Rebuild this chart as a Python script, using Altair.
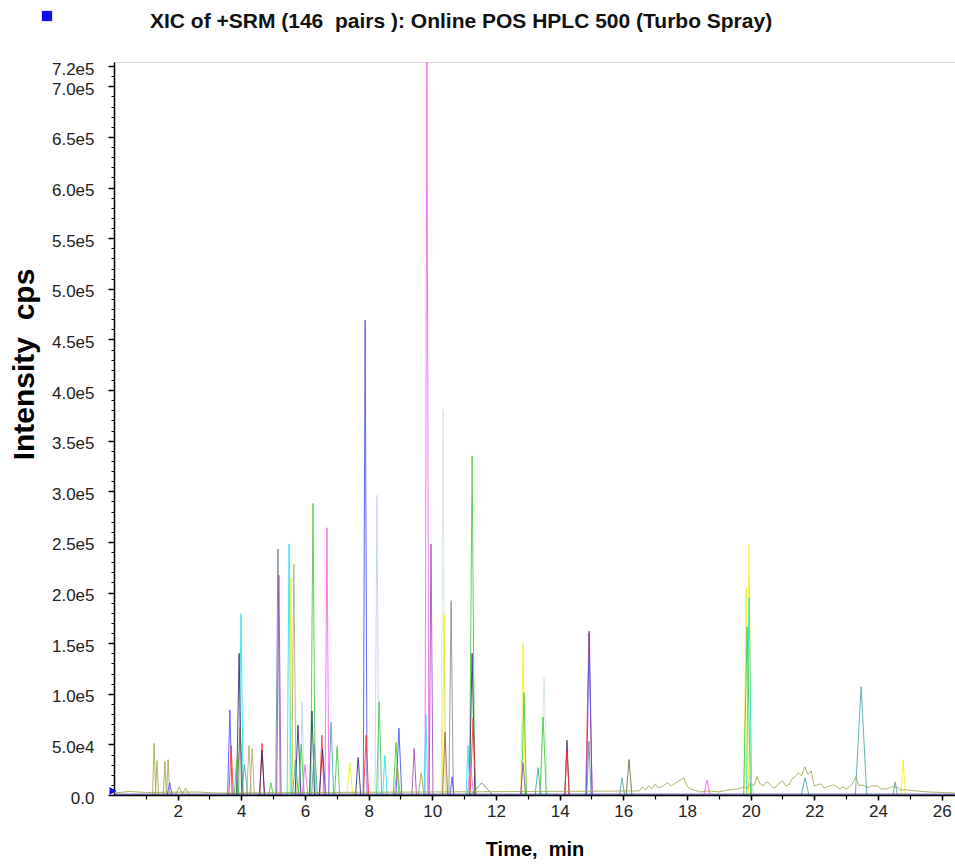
import altair as alt
import pandas as pd

# ---- peaks (retention time min, intensity cps, half width min, trace colour)
peak_time = [1.26, 1.35, 1.60, 1.70, 1.75, 2.05, 2.25, 3.64, 3.68, 3.99, 3.93, 3.96, 3.85, 4.24, 4.34, 4.10,
             4.65, 4.65, 4.93, 5.15, 5.18, 5.50, 5.56, 5.65, 5.91, 5.78, 5.70, 5.88, 6.00, 6.25, 6.22, 6.30,
             6.53, 6.55, 6.69, 6.82, 7.01, 7.41, 7.67, 7.89, 7.92, 8.26, 8.33, 8.51, 8.86, 8.95, 8.90, 9.43,
             9.65, 9.83, 9.80, 9.96, 10.34, 10.37, 10.40, 10.59, 10.62, 11.25, 11.25, 11.28, 11.12, 11.20,
             11.55, 12.85, 12.88, 12.85, 13.51, 13.48, 13.32, 14.23, 14.23, 14.92, 14.93, 14.92, 15.96,
             16.18, 18.63, 19.95, 19.86, 19.95, 19.89, 19.98, 21.71, 23.47, 24.54, 24.79]
peak_height = [51000, 34000, 33000, 35000, 12000, 8000, 7000, 84000, 49000, 179000, 140000, 67000, 35000,
               49000, 46000, 30000, 51000, 44000, 12000, 243000, 217000, 248000, 214000, 228000, 92000,
               69000, 35000, 50000, 30000, 288000, 83000, 50000, 59000, 45000, 264000, 72000, 48000,
               32000, 37000, 469000, 59000, 296000, 92000, 39000, 52000, 66000, 30000, 46000, 22000,
               730000, 79000, 248000, 381000, 179000, 62000, 192000, 18000, 335000, 140000, 76000, 49000,
               30000, 12000, 150000, 101000, 32000, 116000, 77000, 27000, 54000, 44000, 160000, 162000,
               53000, 17000, 35000, 15000, 248000, 205000, 195000, 166000, 20000, 17000, 107000, 13000,
               35000]
peak_halfwidth = [0.05, 0.05, 0.05, 0.05, 0.08, 0.12, 0.12, 0.07, 0.07, 0.07, 0.08, 0.09, 0.07, 0.07, 0.07,
                  0.10, 0.07, 0.08, 0.07, 0.07, 0.07, 0.06, 0.06, 0.07, 0.06, 0.09, 0.09, 0.09, 0.09, 0.07,
                  0.08, 0.09, 0.07, 0.10, 0.06, 0.08, 0.08, 0.09, 0.08, 0.06, 0.08, 0.06, 0.08, 0.07, 0.09,
                  0.09, 0.09, 0.07, 0.09, 0.06, 0.06, 0.06, 0.06, 0.06, 0.08, 0.07, 0.06, 0.08, 0.09, 0.09,
                  0.06, 0.10, 0.35, 0.07, 0.08, 0.08, 0.10, 0.10, 0.09, 0.07, 0.07, 0.10, 0.09, 0.07, 0.08,
                  0.09, 0.10, 0.08, 0.07, 0.08, 0.11, 0.12, 0.12, 0.18, 0.07, 0.07]
peak_trace = ["olive", "olive", "olive", "olive", "blue", "olive", "olive", "blue", "red", "cyan", "navy",
              "darkolive", "green", "khaki", "khaki", "teal", "red", "navy", "green", "slate", "purple",
              "cyan", "yellow", "khaki", "lightblue", "navy", "teal", "green", "magenta", "green", "navy",
              "teal", "red", "navy", "magenta", "teal", "green", "yellow", "navy", "blue", "red",
              "lightblue", "green", "cyan", "green", "blue", "olive", "purple", "olive", "magenta", "cyan",
              "purple", "palegreen", "yellow", "brown", "gray", "blue", "green", "navy", "red", "cyan",
              "magenta", "darkgreen", "yellow", "green", "purple", "palegreen", "green", "teal", "navy",
              "red", "red", "blue", "slate", "teal", "darkolive", "magenta", "yellow", "yellow", "cyan",
              "green", "lightblue", "teal", "teal", "teal", "yellow"]

# ---- olive baseline noise
noise_time = [0.0, 0.5, 1.0, 2.6, 3.2, 16.5, 16.6, 16.7, 16.8, 16.9, 17.0, 17.1, 17.2, 17.3, 17.4, 17.5,
              17.6, 17.7, 17.8, 17.9, 18.0, 18.1, 18.2, 18.4, 18.7, 19.0, 19.3, 19.6, 19.8, 19.9, 20.0,
              20.1, 20.2, 20.3, 20.4, 20.5, 20.6, 20.7, 20.8, 20.9, 21.0, 21.1, 21.2, 21.3, 21.4, 21.5,
              21.6, 21.7, 21.8, 21.9, 22.0, 22.2, 22.3, 22.5, 22.6, 22.8, 22.9, 23.0, 23.1, 23.2, 23.3,
              23.4, 23.5, 23.7, 23.8, 24.0, 24.1, 24.3, 24.4, 24.6, 24.7, 24.9, 25.2, 25.6, 26.0, 26.42]
noise_height = [2000, 3500, 2500, 3000, 2000, 4000, 8000, 5000, 9000, 6000, 11000, 7000, 8000, 10000,
                12000, 9000, 11000, 13000, 15000, 17000, 9000, 6000, 5000, 3000, 4000, 3000, 5000, 6000,
                8000, 6000, 12000, 9000, 18000, 11000, 9000, 13000, 11000, 7000, 8000, 12000, 14000,
                9000, 10000, 16000, 18000, 22000, 19000, 28000, 20000, 24000, 9000, 11000, 7000, 9000,
                10000, 6000, 8000, 6000, 8000, 11000, 18000, 9000, 10000, 7000, 9000, 9000, 6000, 6000,
                8000, 8000, 5000, 5000, 4000, 3000, 2500, 2000]

# ---- axis tick values
x_tick_values = list(range(2, 27, 2))
x_minor_values = list(range(1, 27))
y_tick_values = [0, 50000, 100000, 150000, 200000, 250000, 300000, 350000, 400000, 450000, 500000,
                 550000, 600000, 650000, 700000, 720000]
y_minor_values = [i * 10000 for i in range(0, 73)]

chart_title = "XIC of +SRM (146\u00a0 pairs ): Online POS HPLC 500 (Turbo Spray)"

trace_colors = {
    "olive": "#a4a44c", "khaki": "#b4ac6c", "darkolive": "#6c6c3c", "blue": "#4a4aff", "red": "#ff3030",
    "cyan": "#20e0f0", "navy": "#2c2c6c", "green": "#3ccc3c", "darkgreen": "#4c9c4c", "slate": "#6684a4",
    "purple": "#a04cb0", "yellow": "#f0f020", "lightblue": "#bcd0f4", "palegreen": "#cfe6cf",
    "gray": "#8c8c8c", "brown": "#a05c4c", "magenta": "#ff5cff", "teal": "#4ca4a4",
}

rows = []
for i, (t, h, w, c) in enumerate(zip(peak_time, peak_height, peak_halfwidth, peak_trace)):
    for k, (tt, hh) in enumerate([(t - w, 0), (t, h), (t + w, 0)]):
        rows.append({"id": f"p{i}", "t": tt, "h": hh, "k": k, "c": trace_colors[c]})
for k, (tt, hh) in enumerate(zip(noise_time, noise_height)):
    rows.append({"id": "noise", "t": tt, "h": hh, "k": k, "c": trace_colors["olive"]})
for k, tt in enumerate([0.0, 26.42]):
    rows.append({"id": "base", "t": tt, "h": 800, "k": k, "c": "#1c1c8c"})
df = pd.DataFrame(rows)
one = pd.DataFrame({"label": [chart_title]})

FONT = "Liberation Sans"
xscale = alt.Scale(domain=[0, 26.42], nice=False, zero=False)
yscale = alt.Scale(domain=[0, 724000], nice=False)

lines = alt.Chart(df).mark_line(strokeWidth=1, opacity=0.85, clip=True).encode(
    x=alt.X("t:Q", scale=xscale, axis=alt.Axis(
        values=x_tick_values, title="Time,\u00a0 min", grid=False, tickSize=5, tickWidth=1.5,
        tickColor="black", domainColor="black", domainWidth=1.5, labelFontSize=17, labelFont=FONT,
        labelColor="#222222", labelPadding=3, titleFont=FONT, titleFontSize=20, titleFontWeight="bold",
        titleColor="black", titlePadding=20, labelFlush=False, orient="bottom")),
    y=alt.Y("h:Q", scale=yscale, axis=alt.Axis(
        values=y_tick_values, title="Intensity\u00a0 cps", grid=False, tickSize=6, tickWidth=1.5,
        tickColor="black", domainColor="black", domainWidth=1.5, labelFontSize=17, labelFont=FONT,
        labelColor="#222222", labelPadding=14, labelOffset=3, labelOverlap=False, labelBound=False,
        labelFlush=False,
        labelExpr="datum.value == 0 ? '0.0' : replace(format(datum.value, '.1e'), '+', '')",
        titleFont=FONT, titleFontSize=30, titleFontWeight="bold", titleColor="black",
        titleX=-81, titleY=302, titleBaseline="alphabetic", orient="left")),
    color=alt.Color("c:N", scale=None),
    detail="id:N",
    order="k:Q",
)

minor = alt.Chart(df).mark_point(opacity=0).encode(
    x=alt.X("t:Q", scale=xscale, axis=alt.Axis(
        values=x_minor_values, labels=False, domain=False, grid=False, title=None, tickSize=4,
        tickWidth=1.2, tickColor="black", orient="bottom")),
    y=alt.Y("h:Q", scale=yscale, axis=alt.Axis(
        values=y_minor_values, labels=False, domain=False, grid=False, title=None, tickSize=3,
        tickWidth=1, tickColor="black", orient="left")),
)

origin_marker = alt.Chart(one).mark_point(
    shape="triangle-right", filled=True, color="#1010e0", size=65, opacity=1, clip=False
).encode(x=alt.value(-1), y=alt.value(729))

title_square = alt.Chart(one).mark_square(
    filled=True, color="#1010e8", size=105, opacity=1, clip=False
).encode(x=alt.value(-67), y=alt.value(-46))

title_text = alt.Chart(one).mark_text(
    align="left", baseline="alphabetic", font=FONT,
    fontSize=21, fontWeight="bold", color="#111111", clip=False
).encode(x=alt.value(36), y=alt.value(-34), text="label:N")

chart = alt.layer(lines, minor, origin_marker, title_square, title_text).resolve_axis(
    x="independent", y="independent"
).properties(
    width=841, height=733,
    autosize=alt.AutoSizeParams(type="none"),
    padding={"left": 114, "top": 62, "right": 0, "bottom": 69},
).configure_view(stroke=None).configure(background="white")

chart.save("out.html", embed_options={"renderer": "svg", "actions": False})
